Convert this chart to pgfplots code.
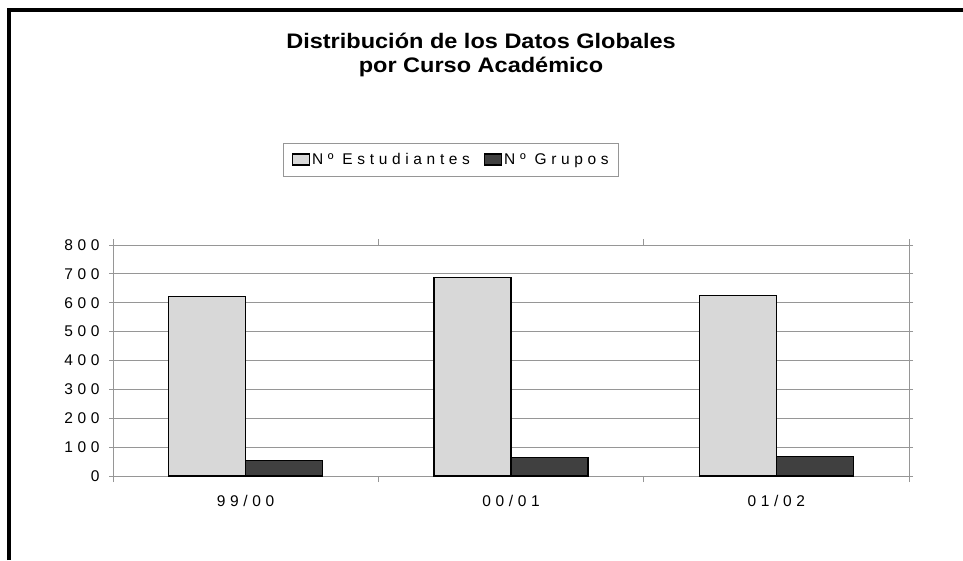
\documentclass[border=0pt]{standalone}
\usepackage{fontspec}
\setmainfont{Liberation Sans}
\newfontfamily\spaced[LetterSpace=30]{Liberation Sans}
\usepackage{pgfplots}
\pgfplotsset{compat=1.18}
\definecolor{lightbar}{RGB}{216,216,216}
\definecolor{darkbar}{RGB}{64,64,64}
\definecolor{gridc}{RGB}{150,150,150}
\pgfplotsset{sqlegend/.style={legend image code/.code={\draw[##1] (0pt,-5.5pt) rectangle (17pt,5.5pt);}}}
\begin{document}
\begin{tikzpicture}[x=1pt,y=1pt]
\useasboundingbox (0,0) rectangle (963,560);
\draw[line width=3.5pt] (9,0) -- (9,550) -- (963,550);
\node[font=\bfseries\fontsize{21}{24}\selectfont, align=center, xscale=1.12] at (481,505) {Distribución de los Datos Globales\\por Curso Académico};
\begin{axis}[
  at={(113pt,84pt)}, anchor=south west, scale only axis,
  width=796pt, height=231pt,
  xmin=0, xmax=3, ymin=0, ymax=800,
  ybar=0pt, bar width=77pt,
  xtick={0.5,1.5,2.5}, xticklabels={99/00,00/01,01/02},
  minor xtick={0,1,2,3},
  ytick={0,100,...,800},
  ymajorgrids, grid style={gridc, line width=0.8pt},
  axis line style={gridc, line width=0.8pt},
  tick align=outside,
  major tick length=4pt, minor tick length=6pt,
  major x tick style={draw=none},
  minor x tick style={gridc, line width=0.8pt},
  y tick style={gridc, line width=0.8pt},
  ticklabel style={font=\spaced\fontsize{15.5}{18}\selectfont},
  /pgf/number format/assume math mode=true,
  yticklabel style={anchor=east, xshift=-6pt},
  xticklabel style={yshift=-12pt},
  legend columns=2,
  legend style={at={(0.425,1.370)}, anchor=center, draw=gridc, line width=0.8pt,
    font=\spaced\fontsize{15.5}{18}\selectfont, inner ysep=8pt, inner xsep=8pt,
    /tikz/every even column/.append style={column sep=12pt}},
]
\addplot[fill=lightbar, draw=black, line width=1.2pt, sqlegend] coordinates {(0.5,622) (1.5,688) (2.5,625)};
\addplot[fill=darkbar, draw=black, line width=1.2pt, sqlegend] coordinates {(0.5,53) (1.5,65) (2.5,67)};
\legend{Nº Estudiantes, Nº Grupos}
\end{axis}
\end{tikzpicture}
\end{document}
